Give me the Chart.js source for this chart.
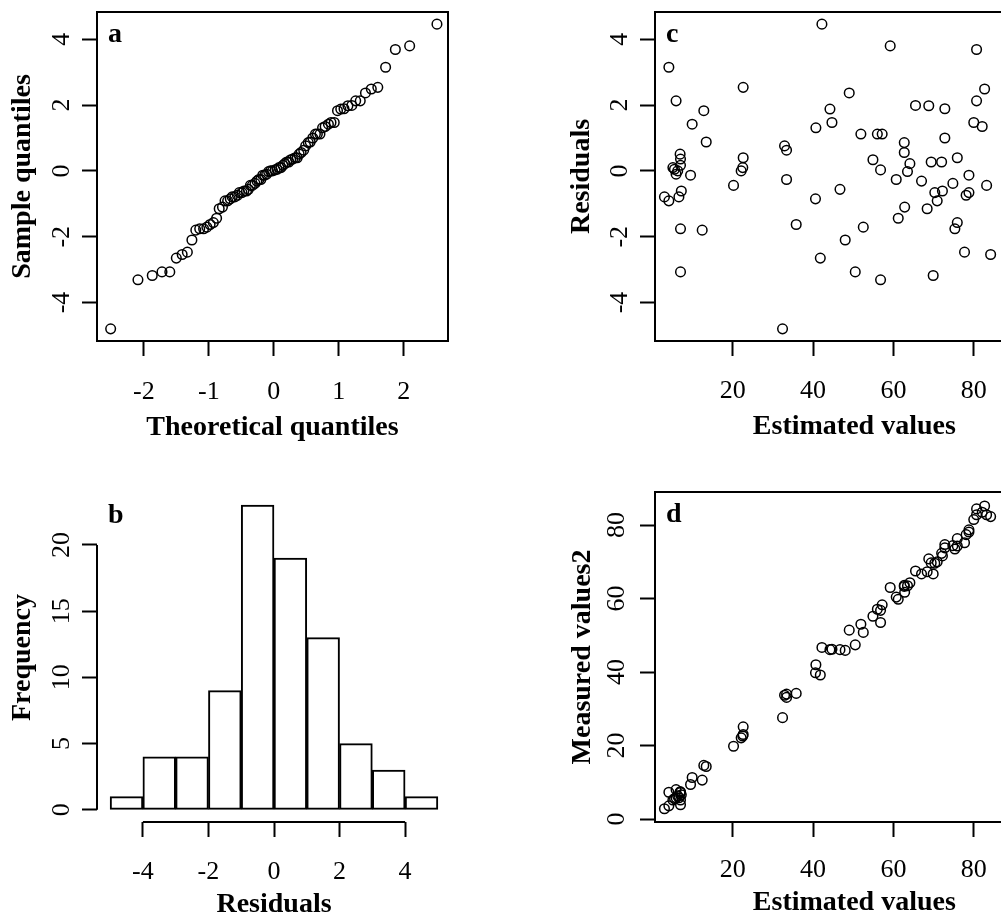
<!DOCTYPE html>
<html>
<head>
<meta charset="utf-8">
<title>Residual diagnostics</title>
<script src="https://cdn.jsdelivr.net/npm/chart.js@4.4.0/dist/chart.umd.min.js"></script>
<style>
  body { margin: 0; background: #fff; overflow: hidden; width: 1001px; height: 922px; position: relative; }
  canvas { position: absolute; }
</style>
</head>
<body>
<canvas id="qq" width="500" height="461" style="left:0;top:0"></canvas>
<canvas id="hist" width="500" height="461" style="left:0;top:461px"></canvas>
<canvas id="resid" width="560" height="461" style="left:500px;top:0"></canvas>
<canvas id="fit" width="560" height="461" style="left:500px;top:461px"></canvas>
<script>
// fitted (estimated) values, residuals and measured values, one entry per observation
var estimated = [3.0, 4.1, 4.1, 5.1, 5.5, 5.9, 5.9, 6.3, 6.6, 6.9,
  7.0, 7.0, 7.2, 7.0, 7.0, 9.5, 9.9, 12.4, 12.8, 13.4,
  20.2, 22.1, 22.5, 22.6, 22.6, 32.4, 32.9, 33.4, 33.4, 35.8,
  40.6, 40.7, 41.8, 42.2, 44.2, 44.7, 46.7, 48.0, 49.0, 50.5,
  51.9, 52.5, 54.9, 56.0, 56.8, 56.8, 57.2, 59.2, 60.7, 61.2,
  62.7, 62.7, 62.8, 63.5, 64.1, 65.5, 67.0, 68.4, 68.8, 69.4,
  70.3, 70.9, 69.9, 72.0, 72.2, 72.8, 72.8, 74.8, 75.3, 75.9,
  75.9, 77.7, 78.1, 78.8, 78.8, 80.0, 80.7, 80.7, 82.1, 82.7,
  83.2, 84.2];
var residuals = [-0.79, -0.91, 3.15, 0.10, 0.05, 2.13, -0.10, 0, -0.79, 0.51,
  0.36, 0.17, -0.61, -1.76, -3.07, -0.13, 1.42, -1.80, 1.83, 0.88,
  -0.44, 0, 0.10, 0.40, 2.54, -4.80, 0.76, 0.63, -0.26, -1.63,
  -0.85, 1.31, -2.65, 4.46, 1.88, 1.47, -0.56, -2.10, 2.37, -3.07,
  1.12, -1.71, 0.34, 1.12, 0.03, -3.31, 1.12, 3.80, -0.26, -1.44,
  0.86, 0.56, -1.10, -0.02, 0.22, 1.99, -0.31, -1.15, 1.98, 0.27,
  -0.66, -0.91, -3.18, 0.27, -0.61, 1.89, 1.00, -0.38, -1.76, -1.57,
  0.40, -2.47, -0.74, -0.66, -0.13, 1.47, 3.69, 2.13, 1.35, 2.49,
  -0.44, -2.54];
var measured = [2.8, 3.6, 7.3, 5.2, 5.6, 8.0, 5.8, 6.3, 5.8, 7.4,
  7.4, 7.2, 6.6, 5.2, 3.9, 9.4, 11.3, 10.6, 14.6, 14.3,
  19.8, 22.1, 22.6, 23.0, 25.1, 27.6, 33.7, 34.0, 33.1, 34.2,
  39.8, 42.0, 39.2, 46.7, 46.1, 46.2, 46.1, 45.9, 51.4, 47.4,
  53.0, 50.8, 55.2, 57.1, 56.8, 53.5, 58.3, 63.0, 60.4, 59.8,
  63.6, 63.3, 61.7, 63.5, 64.3, 67.5, 66.7, 67.3, 70.8, 69.7,
  69.6, 70.0, 66.7, 72.3, 71.6, 74.7, 73.8, 74.4, 73.5, 74.3,
  76.3, 75.2, 77.4, 78.1, 78.7, 81.5, 84.4, 82.8, 83.5, 85.2,
  82.8, 82.3];

// normal Q-Q plot: theoretical quantiles against sorted residuals
var qqTheoretical = [-2.51, -2.09, -1.87, -1.72, -1.60, -1.50, -1.41, -1.33, -1.26, -1.20,
  -1.14, -1.08, -1.03, -0.98, -0.93, -0.88, -0.84, -0.79, -0.75, -0.71,
  -0.67, -0.64, -0.60, -0.56, -0.53, -0.49, -0.46, -0.42, -0.39, -0.36,
  -0.33, -0.29, -0.26, -0.23, -0.20, -0.17, -0.14, -0.11, -0.08, -0.05,
  -0.02, 0.02, 0.05, 0.08, 0.11, 0.14, 0.17, 0.20, 0.23, 0.26,
  0.29, 0.33, 0.36, 0.39, 0.42, 0.46, 0.49, 0.53, 0.56, 0.60,
  0.64, 0.67, 0.71, 0.75, 0.79, 0.84, 0.88, 0.93, 0.98, 1.03,
  1.08, 1.14, 1.20, 1.26, 1.33, 1.41, 1.50, 1.60, 1.72, 1.87,
  2.09, 2.51];
var qqSample = [-4.80, -3.31, -3.18, -3.07, -3.07, -2.65, -2.54, -2.47, -2.10, -1.80,
  -1.76, -1.76, -1.71, -1.63, -1.57, -1.44, -1.15, -1.10, -0.91, -0.91,
  -0.85, -0.79, -0.79, -0.74, -0.66, -0.66, -0.61, -0.61, -0.56, -0.44,
  -0.44, -0.38, -0.31, -0.26, -0.26, -0.13, -0.13, -0.10, -0.02, 0,
  0, 0.03, 0.05, 0.10, 0.10, 0.17, 0.22, 0.27, 0.27, 0.34,
  0.36, 0.40, 0.40, 0.51, 0.56, 0.63, 0.76, 0.86, 0.88, 1.00,
  1.12, 1.12, 1.12, 1.31, 1.35, 1.42, 1.47, 1.47, 1.83, 1.88,
  1.89, 1.98, 1.99, 2.13, 2.13, 2.37, 2.49, 2.54, 3.15, 3.69,
  3.80, 4.46];

// histogram of residuals
var histBreaks = [-5, -4, -3, -2, -1, 0, 1, 2, 3, 4, 5];
var histCounts = [1, 4, 4, 9, 23, 19, 13, 5, 3, 1];

// tick labels
var qqXTicks = [-2, -1, 0, 1, 2];
var residTicks = [-4, -2, 0, 2, 4];
var freqTicks = [0, 5, 10, 15, 20];
var estTicks = [20, 40, 60, 80];
var measTicks = [0, 20, 40, 60, 80];

var serif = "'Liberation Serif', 'Times New Roman', serif";

// R-like frame: axis line from first to last tick, optional box, panel letter
Chart.register({
  id: 'rFrame',
  afterDraw: function (chart, args, opts) {
    var ctx = chart.ctx, a = chart.chartArea;
    var xs = chart.scales.x, ys = chart.scales.y;
    ctx.save();
    ctx.strokeStyle = '#000';
    ctx.lineWidth = 2;
    ctx.beginPath();
    ctx.moveTo(xs.getPixelForValue(xs.ticks[0].value), a.bottom);
    ctx.lineTo(xs.getPixelForValue(xs.ticks[xs.ticks.length - 1].value), a.bottom);
    ctx.moveTo(a.left, ys.getPixelForValue(ys.ticks[0].value));
    ctx.lineTo(a.left, ys.getPixelForValue(ys.ticks[ys.ticks.length - 1].value));
    ctx.stroke();
    if (opts.box) ctx.strokeRect(a.left, a.top, a.right - a.left, a.bottom - a.top);
    if (opts.letter) {
      ctx.fillStyle = '#000';
      ctx.font = 'bold 28px ' + serif;
      ctx.fillText(opts.letter, a.left + 11, a.top + 30);
    }
    ctx.restore();
  }
});

function axis(horizontal, min, max, ticks, title, size, tickPad, titlePad) {
  return {
    type: 'linear', min: min, max: max, bounds: 'data', offset: false,
    afterBuildTicks: function (s) { s.ticks = ticks.map(function (v) { return { value: v }; }); },
    afterFit: function (s) {
      if (horizontal) s.height = size; else s.width = size;
      // no extra room for overhanging labels, the layout padding decides
      s.paddingTop = s.paddingBottom = s.paddingLeft = s.paddingRight = 0;
    },
    border: { display: false },
    grid: { drawOnChartArea: false, drawTicks: true, tickLength: 15, tickWidth: 2, tickColor: '#000', offset: false },
    ticks: {
      color: '#000', font: { family: serif, size: 26 }, padding: tickPad, autoSkip: false,
      minRotation: horizontal ? 0 : 90, maxRotation: horizontal ? 0 : 90,
      crossAlign: horizontal ? 'near' : 'center',
      callback: function (v) { return String(v); }
    },
    title: {
      display: true, text: title, color: '#000',
      font: { family: serif, size: 28, weight: 'bold' },
      padding: horizontal ? { top: 0, bottom: titlePad } : { top: titlePad, bottom: 0 }
    }
  };
}

function pairs(xs, ys) {
  return xs.map(function (x, i) { return { x: x, y: ys[i] }; });
}

var circles = { pointStyle: 'circle', pointRadius: 4.8, pointBorderWidth: 1.5,
  pointBorderColor: '#000', pointBackgroundColor: 'rgba(0,0,0,0)', showLine: false };

function baseOptions(pad, letter, box, xAxis, yAxis) {
  return {
    responsive: false, animation: false,
    layout: { padding: pad },
    plugins: { legend: { display: false }, tooltip: { enabled: false }, rFrame: { box: box, letter: letter } },
    scales: { x: xAxis, y: yAxis }
  };
}

// a: normal Q-Q plot
new Chart(document.getElementById('qq'), {
  type: 'scatter',
  data: { datasets: [Object.assign({ data: pairs(qqTheoretical, qqSample) }, circles)] },
  options: baseOptions({ top: 12, right: 52, left: 0, bottom: 0 }, 'a', true,
    axis(true, -2.72, 2.68, qqXTicks, 'Theoretical quantiles', 120, 21, 16),
    axis(false, -5.17, 4.83, residTicks, 'Sample quantiles', 97, 9, 6))
});

// b: histogram of residuals
new Chart(document.getElementById('hist'), {
  type: 'bar',
  data: { datasets: [{
    data: histCounts.map(function (c, i) { return { x: (histBreaks[i] + histBreaks[i + 1]) / 2, y: c }; }),
    backgroundColor: '#fff', borderColor: '#000', borderWidth: 2, borderSkipped: false,
    barPercentage: 1, categoryPercentage: 1
  }] },
  options: baseOptions({ top: 32, right: 49, left: 0, bottom: 0 }, 'b', false,
    axis(true, -5.4, 5.4, residTicks, 'Residuals', 100, 20, 0),
    axis(false, -0.92, 23.92, freqTicks, 'Frequency', 97, 7, 6))
});

// c: residuals against estimated values
new Chart(document.getElementById('resid'), {
  type: 'scatter',
  data: { datasets: [Object.assign({ data: pairs(estimated, residuals) }, circles)] },
  options: baseOptions({ top: 12, right: 5, left: 0, bottom: 0 }, 'c', true,
    axis(true, 0.65, 99.9, estTicks, 'Estimated values', 120, 20, 17),
    axis(false, -5.17, 4.83, residTicks, 'Residuals', 155, 9, 65))
});

// d: measured against estimated values
new Chart(document.getElementById('fit'), {
  type: 'scatter',
  data: { datasets: [Object.assign({ data: pairs(estimated, measured) }, circles)] },
  options: baseOptions({ top: 31, right: 5, left: 0, bottom: 0 }, 'd', true,
    axis(true, 0.65, 99.9, estTicks, 'Estimated values', 100, 18, 2),
    axis(false, -0.8, 89.0, measTicks, 'Measured values2', 155, 10, 66))
});
</script>
</body>
</html>
